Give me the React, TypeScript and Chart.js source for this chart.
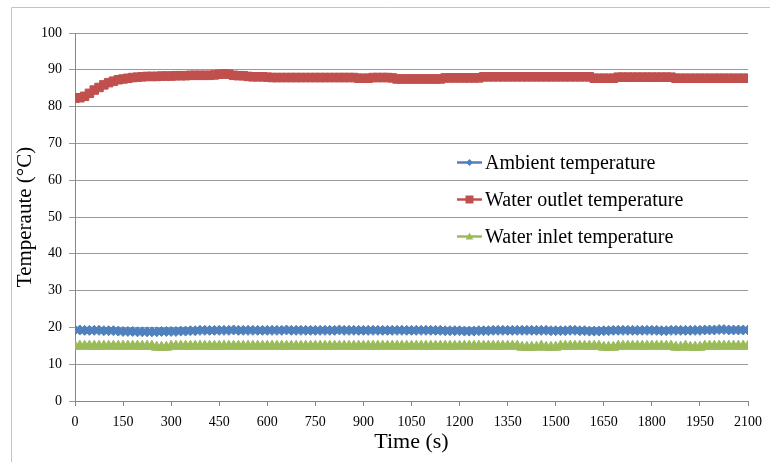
import { useEffect, useRef } from "react";
import { Chart, registerables } from "chart.js";

Chart.register(...registerables);

// Time axis (s): one sample every 15 s from 0 to 2100
const TIME_STEP = 15;
const times: number[] = Array.from({ length: 141 }, (_, i) => i * TIME_STEP);

const xTickValues = [0, 150, 300, 450, 600, 750, 900, 1050, 1200, 1350, 1500, 1650, 1800, 1950, 2100];
const yTickValues = [0, 10, 20, 30, 40, 50, 60, 70, 80, 90, 100];

const seriesLabels = ["Ambient temperature", "Water outlet temperature", "Water inlet temperature"];

const ambient = [
  19.3, 19.3, 19.2, 19.2, 19.2, 19.2, 19.1, 19.1, 19.1, 19.0,
  18.9, 18.9, 18.9, 18.8, 18.8, 18.8, 18.8, 18.8, 18.9, 18.9,
  18.9, 18.9, 19.0, 19.0, 19.1, 19.1, 19.2, 19.2, 19.2, 19.2,
  19.2, 19.2, 19.2, 19.3, 19.2, 19.2, 19.2, 19.2, 19.2, 19.2,
  19.2, 19.2, 19.2, 19.2, 19.3, 19.2, 19.2, 19.2, 19.2, 19.2,
  19.2, 19.2, 19.2, 19.2, 19.2, 19.3, 19.2, 19.2, 19.2, 19.2,
  19.2, 19.2, 19.2, 19.2, 19.2, 19.2, 19.2, 19.2, 19.2, 19.2,
  19.2, 19.2, 19.2, 19.2, 19.2, 19.2, 19.2, 19.1, 19.1, 19.1,
  19.1, 19.0, 19.0, 19.0, 19.1, 19.1, 19.1, 19.2, 19.2, 19.2,
  19.2, 19.2, 19.2, 19.2, 19.2, 19.2, 19.2, 19.2, 19.2, 19.1,
  19.1, 19.1, 19.1, 19.2, 19.2, 19.1, 19.1, 19.0, 19.0, 19.0,
  19.1, 19.1, 19.2, 19.2, 19.2, 19.2, 19.2, 19.2, 19.2, 19.2,
  19.2, 19.2, 19.1, 19.1, 19.2, 19.2, 19.2, 19.2, 19.2, 19.2,
  19.2, 19.3, 19.3, 19.3, 19.4, 19.4, 19.3, 19.3, 19.3, 19.3,
  19.3,
];

const outlet = [
  82.3, 82.4, 82.8, 83.6, 84.5, 85.2, 85.9, 86.5, 86.9, 87.3,
  87.5, 87.7, 87.9, 88.0, 88.1, 88.2, 88.2, 88.2, 88.3, 88.3,
  88.3, 88.4, 88.4, 88.4, 88.5, 88.5, 88.5, 88.5, 88.5, 88.6,
  88.8, 88.9, 88.8, 88.5, 88.4, 88.4, 88.2, 88.1, 88.1, 88.1,
  88.0, 87.9, 87.9, 87.9, 87.9, 87.9, 87.9, 87.9, 87.9, 87.9,
  87.9, 87.9, 87.9, 87.9, 87.9, 87.9, 87.9, 87.9, 87.9, 87.7,
  87.7, 87.7, 87.9, 87.9, 87.9, 87.9, 87.8, 87.5, 87.5, 87.5,
  87.5, 87.5, 87.5, 87.5, 87.5, 87.5, 87.5, 87.8, 87.8, 87.8,
  87.8, 87.8, 87.8, 87.8, 87.8, 88.1, 88.1, 88.1, 88.1, 88.1,
  88.1, 88.1, 88.1, 88.1, 88.1, 88.1, 88.1, 88.1, 88.1, 88.1,
  88.1, 88.1, 88.1, 88.1, 88.1, 88.1, 88.1, 88.1, 87.7, 87.7,
  87.7, 87.7, 87.7, 88.0, 88.0, 88.0, 88.0, 88.0, 88.0, 88.0,
  88.0, 88.0, 88.0, 88.0, 88.0, 87.7, 87.7, 87.7, 87.7, 87.7,
  87.7, 87.7, 87.7, 87.7, 87.7, 87.7, 87.7, 87.7, 87.7, 87.7,
  87.7,
];

const inlet = [
  14.9, 14.9, 14.9, 14.9, 14.9, 14.9, 14.9, 14.9, 14.9, 14.9,
  14.9, 14.9, 14.9, 14.9, 14.9, 14.9, 14.9, 14.6, 14.6, 14.6,
  14.9, 14.9, 14.9, 14.9, 14.9, 14.9, 14.9, 14.9, 14.9, 14.9,
  14.9, 14.9, 14.9, 14.9, 14.9, 14.9, 14.9, 14.9, 14.9, 14.9,
  14.9, 14.9, 14.9, 14.9, 14.9, 14.9, 14.9, 14.9, 14.9, 14.9,
  14.9, 14.9, 14.9, 14.9, 14.9, 14.9, 14.9, 14.9, 14.9, 14.9,
  14.9, 14.9, 14.9, 14.9, 14.9, 14.9, 14.9, 14.9, 14.9, 14.9,
  14.9, 14.9, 14.9, 14.9, 14.9, 14.9, 14.9, 14.9, 14.9, 14.9,
  14.9, 14.9, 14.9, 14.9, 14.9, 14.9, 14.9, 14.9, 14.9, 14.9,
  14.9, 14.9, 14.9, 14.6, 14.6, 14.6, 14.6, 14.9, 14.6, 14.6,
  14.6, 14.9, 14.9, 14.9, 14.9, 14.9, 14.9, 14.9, 14.9, 14.9,
  14.6, 14.6, 14.6, 14.9, 14.9, 14.9, 14.9, 14.9, 14.9, 14.9,
  14.9, 14.9, 14.9, 14.9, 14.9, 14.6, 14.6, 14.9, 14.6, 14.6,
  14.6, 14.9, 14.9, 14.9, 14.9, 14.9, 14.9, 14.9, 14.9, 14.9,
  14.9,
];

const COLORS = ["#4F81BD", "#C0504D", "#9BBB59"];
const STYLES = ["rectRot", "rect", "triangle"];
const RADII = [5, 6, 6];

const SERIF = '"Liberation Serif", "Times New Roman", serif';

function drawMarker(ctx: CanvasRenderingContext2D, style: string, x: number, y: number, r: number) {
  ctx.beginPath();
  if (style === "rectRot") {
    ctx.moveTo(x, y - r);
    ctx.lineTo(x + r, y);
    ctx.lineTo(x, y + r);
    ctx.lineTo(x - r, y);
    ctx.closePath();
  } else if (style === "rect") {
    ctx.rect(x - r, y - r, 2 * r, 2 * r);
  } else {
    ctx.moveTo(x, y - r);
    ctx.lineTo(x + r * 0.95, y + r * 0.75);
    ctx.lineTo(x - r * 0.95, y + r * 0.75);
    ctx.closePath();
  }
  ctx.fill();
}

const framePlugin = {
  id: "frame",
  beforeDraw(chart: any) {
    const ctx = chart.ctx as CanvasRenderingContext2D;
    ctx.save();
    ctx.fillStyle = "#ffffff";
    ctx.fillRect(0, 0, chart.width, chart.height);
    ctx.strokeStyle = "#c4c4c4";
    ctx.lineWidth = 1;
    ctx.beginPath();
    ctx.moveTo(11.5, chart.height);
    ctx.lineTo(11.5, 7.5);
    ctx.lineTo(chart.width, 7.5);
    ctx.stroke();
    ctx.restore();
  },
};

const legendPlugin = {
  id: "insideLegend",
  afterDatasetsDraw(chart: any) {
    const ctx = chart.ctx as CanvasRenderingContext2D;
    const baselines = [169, 206, 243];
    const markerR = [3.5, 4, 4];
    ctx.save();
    chart.data.datasets.forEach((ds: any, i: number) => {
      const yb = baselines[i];
      const ym = yb - 6.5;
      ctx.strokeStyle = ds.borderColor;
      ctx.fillStyle = ds.borderColor;
      ctx.lineWidth = 2.5;
      ctx.beginPath();
      ctx.moveTo(457, ym);
      ctx.lineTo(482, ym);
      ctx.stroke();
      drawMarker(ctx, STYLES[i], 469.5, ym, markerR[i]);
      ctx.fillStyle = "#000000";
      ctx.font = `20px ${SERIF}`;
      ctx.textBaseline = "alphabetic";
      ctx.textAlign = "left";
      ctx.fillText(ds.label, 485, yb);
    });
    ctx.restore();
  },
};

export default function App() {
  const canvasRef = useRef<HTMLCanvasElement | null>(null);

  useEffect(() => {
    document.body.style.margin = "0";
    const canvas = canvasRef.current;
    if (!canvas) return;
    const seriesValues = [ambient, outlet, inlet];
    const chart = new Chart(canvas, {
      type: "line",
      data: {
        datasets: seriesValues.map((vals, i) => ({
          label: seriesLabels[i],
          data: vals.map((v, j) => ({ x: times[j], y: v })),
          borderColor: COLORS[i],
          backgroundColor: COLORS[i],
          borderWidth: 2.5,
          pointStyle: STYLES[i] as any,
          pointRadius: RADII[i],
          pointBorderWidth: 1,
          pointBorderColor: COLORS[i],
          pointBackgroundColor: COLORS[i],
          tension: 0,
          fill: false,
        })),
      },
      options: {
        responsive: false,
        animation: false,
        events: [],
        layout: { padding: { left: 0, top: 33, right: 19, bottom: 0 } },
        plugins: {
          legend: { display: false },
          tooltip: { enabled: false },
        },
        scales: {
          x: {
            type: "linear",
            min: 0,
            max: 2100,
            afterBuildTicks: (scale: any) => {
              scale.ticks = xTickValues.map((v) => ({ value: v }));
            },
            afterFit: (scale: any) => {
              scale.height = 61;
            },
            grid: {
              drawOnChartArea: false,
              drawTicks: true,
              tickLength: 5,
              color: "#868686",
            },
            border: { display: true, color: "#868686", width: 1 },
            ticks: {
              color: "#000000",
              font: { family: SERIF, size: 14 },
              padding: 8,
              maxRotation: 0,
              autoSkip: false,
              callback: (v: any) => String(v),
            },
            title: {
              display: true,
              text: "Time (s)",
              color: "#000000",
              font: { family: SERIF, size: 22 },
              padding: { top: 0, bottom: 7 },
            },
          },
          y: {
            type: "linear",
            min: 0,
            max: 100,
            afterBuildTicks: (scale: any) => {
              scale.ticks = yTickValues.map((v) => ({ value: v }));
            },
            afterFit: (scale: any) => {
              scale.width = 75;
            },
            grid: {
              drawOnChartArea: true,
              drawTicks: true,
              tickLength: 6,
              color: "#9a9a9a",
            },
            border: { display: true, color: "#868686", width: 1 },
            ticks: {
              color: "#000000",
              font: { family: SERIF, size: 14 },
              padding: 7,
              autoSkip: false,
              callback: (v: any) => String(v),
            },
            title: {
              display: true,
              text: "Temperaute (°C)",
              color: "#000000",
              font: { family: SERIF, size: 21 },
              padding: { top: 13, bottom: 0 },
            },
          },
        },
      },
      plugins: [framePlugin, legendPlugin],
    });
    return () => chart.destroy();
  }, []);

  return (
    <div style={{ width: 770, height: 462 }}>
      <canvas ref={canvasRef} width={770} height={462} style={{ display: "block" }} />
    </div>
  );
}
